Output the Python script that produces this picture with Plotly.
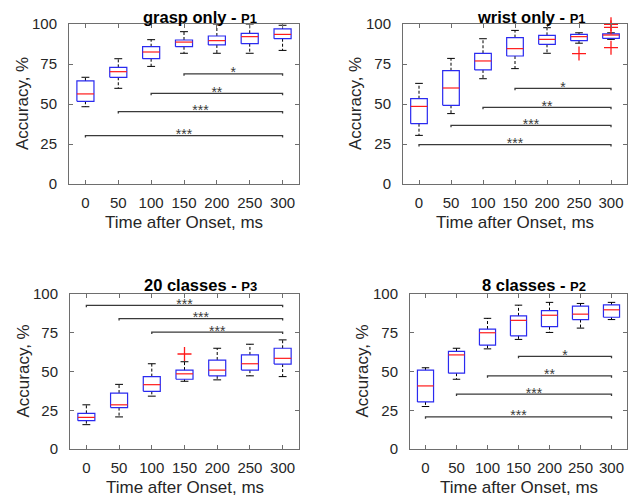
import plotly.graph_objects as go

# The page places the figure 8px from the window's top-left corner.
OFF = 8
W, H = 639 - OFF, 497 - OFF

TIMES = [0, 50, 100, 150, 200, 250, 300]
TICK_LABELS = ["0", "50", "100", "150", "200", "250", "300"]
Y_TICKS = [0, 25, 50, 75, 100]
Y_TICK_LABELS = ["0", "25", "50", "75", "100"]

# grasp only - P1
GRASP_LO = [48.3, 59.8, 73.5, 81.7, 81.7, 81.7, 83.5]
GRASP_Q1 = [51.7, 66.7, 78.3, 85.8, 86.9, 87.7, 90.8]
GRASP_MED = [56.3, 70.2, 82.5, 88.7, 89.6, 92.1, 93.5]
GRASP_Q3 = [64.4, 72.9, 85.8, 90.0, 92.5, 94.2, 96.9]
GRASP_HI = [66.7, 78.3, 90.2, 95.2, 100.0, 100.0, 99.2]
GRASP_OUT_T = []
GRASP_OUT_V = []
GRASP_SIG_FROM = [150, 100, 50, 0]
GRASP_SIG_Y = [68.8, 56.7, 45.2, 30.2]
GRASP_SIG_TEXT = ["*", "**", "***", "***"]

# wrist only - P1
WRIST_LO = [30.4, 44.0, 65.8, 72.1, 81.7, 88.0, 90.4]
WRIST_Q1 = [37.7, 49.2, 71.3, 80.0, 87.3, 89.6, 91.0]
WRIST_MED = [48.5, 60.0, 76.9, 84.6, 90.4, 92.1, 93.1]
WRIST_Q3 = [53.3, 70.8, 81.7, 91.5, 92.9, 93.5, 93.8]
WRIST_HI = [62.9, 78.5, 90.8, 96.0, 97.7, 94.5, 94.5]
WRIST_OUT_T = [250, 250, 300, 300, 300]
WRIST_OUT_V = [100.4, 81.5, 99.8, 97.9, 85.2]
WRIST_SIG_FROM = [150, 100, 50, 0]
WRIST_SIG_Y = [59.8, 47.9, 36.7, 24.6]
WRIST_SIG_TEXT = ["*", "**", "***", "***"]

# 20 classes - P3
C20_LO = [15.7, 20.7, 34.1, 43.7, 44.6, 47.2, 46.7]
C20_Q1 = [18.3, 26.7, 37.2, 45.0, 47.2, 50.9, 54.8]
C20_MED = [20.4, 28.5, 41.5, 48.5, 50.9, 55.0, 58.5]
C20_Q3 = [23.0, 36.1, 46.7, 50.9, 57.4, 60.7, 65.0]
C20_HI = [28.5, 41.7, 55.0, 56.3, 65.0, 67.6, 70.4]
C20_OUT_T = [150]
C20_OUT_V = [61.3]
C20_SIG_FROM = [0, 50, 100]
C20_SIG_Y = [92.6, 84.1, 75.4]
C20_SIG_TEXT = ["***", "***", "***"]

# 8 classes - P2
C8_LO = [27.4, 45.0, 64.6, 70.7, 75.2, 78.0, 83.5]
C8_Q1 = [30.4, 48.9, 67.0, 73.0, 78.9, 83.5, 85.0]
C8_MED = [40.7, 60.7, 75.0, 83.0, 86.3, 87.0, 89.8]
C8_Q3 = [50.9, 63.0, 77.4, 85.9, 89.3, 92.2, 93.0]
C8_HI = [52.4, 65.0, 84.3, 92.8, 94.6, 93.9, 94.6]
C8_OUT_T = []
C8_OUT_V = []
C8_SIG_FROM = [150, 100, 50, 0]
C8_SIG_Y = [59.8, 47.2, 35.4, 20.7]
C8_SIG_TEXT = ["*", "**", "***", "***"]

PANELS = [
    dict(main="grasp only - ", sub="P1", lo=GRASP_LO, q1=GRASP_Q1, med=GRASP_MED, q3=GRASP_Q3, hi=GRASP_HI,
         ot=GRASP_OUT_T, ov=GRASP_OUT_V, sf=GRASP_SIG_FROM, sy=GRASP_SIG_Y, st=GRASP_SIG_TEXT,
         box=(69, 299, 24, 184), tx=200, ty=17, yx=23),
    dict(main="wrist only - ", sub="P1", lo=WRIST_LO, q1=WRIST_Q1, med=WRIST_MED, q3=WRIST_Q3, hi=WRIST_HI,
         ot=WRIST_OUT_T, ov=WRIST_OUT_V, sf=WRIST_SIG_FROM, sy=WRIST_SIG_Y, st=WRIST_SIG_TEXT,
         box=(403, 627, 24, 184), tx=531, ty=17, yx=356),
    dict(main="20 classes - ", sub="P3", lo=C20_LO, q1=C20_Q1, med=C20_MED, q3=C20_Q3, hi=C20_HI,
         ot=C20_OUT_T, ov=C20_OUT_V, sf=C20_SIG_FROM, sy=C20_SIG_Y, st=C20_SIG_TEXT,
         box=(70, 299, 294, 449), tx=200, ty=285, yx=23),
    dict(main="8 classes - ", sub="P2", lo=C8_LO, q1=C8_Q1, med=C8_MED, q3=C8_Q3, hi=C8_HI,
         ot=C8_OUT_T, ov=C8_OUT_V, sf=C8_SIG_FROM, sy=C8_SIG_Y, st=C8_SIG_TEXT,
         box=(410, 627, 294, 449), tx=534, ty=285, yx=362),
]

BOX_HW = 13.0
CAP_HW = 6.0
FONT = "Liberation Sans, Arial, Helvetica, sans-serif"

fig = go.Figure()
layout = dict(
    template="none",
    width=W, height=H, margin=dict(l=0, r=0, t=0, b=0, pad=0, autoexpand=False),
    paper_bgcolor="white", plot_bgcolor="white", showlegend=False,
    font=dict(family=FONT, color="#262626"),
)
annotations = []


def px_x(x):
    return (x - OFF) / W


def px_y(y):
    return 1 - (y - OFF) / H


for i, p in enumerate(PANELS):
    n = "" if i == 0 else str(i + 1)
    xa, ya = "x" + n, "y" + n
    x0, x1, y0, y1 = p["box"]
    axis_common = dict(
        showline=True, linecolor="#6e6e6e", linewidth=1, mirror="ticks",
        ticks="inside", ticklen=4, tickcolor="#6e6e6e", tickwidth=1,
        showgrid=False, zeroline=False, automargin=False,
        tickfont=dict(family=FONT, size=15, color="#262626"),
    )
    layout["xaxis" + n] = dict(
        axis_common, domain=[px_x(x0), px_x(x1)], anchor=ya, range=[-25, 325],
        tickmode="array", tickvals=TIMES, ticktext=TICK_LABELS, ticklabelstandoff=5,
    )
    layout["yaxis" + n] = dict(
        axis_common, domain=[px_y(y1), px_y(y0)], anchor=xa, range=[0, 100],
        tickmode="array", tickvals=Y_TICKS, ticktext=Y_TICK_LABELS, ticklabelstandoff=8,
    )

    # whiskers (dashed black)
    wx, wy = [], []
    for t, lo, q1, q3, hi in zip(TIMES, p["lo"], p["q1"], p["q3"], p["hi"]):
        wx += [t, t, None, t, t, None]
        wy += [q3, hi, None, q1, lo, None]
    fig.add_trace(go.Scatter(x=wx, y=wy, xaxis=xa, yaxis=ya, mode="lines",
                             line=dict(color="black", width=1, dash="3px,2px"),
                             hoverinfo="skip", cliponaxis=False))
    # caps
    cx, cy = [], []
    for t, lo, hi in zip(TIMES, p["lo"], p["hi"]):
        cx += [t - CAP_HW, t + CAP_HW, None, t - CAP_HW, t + CAP_HW, None]
        cy += [hi, hi, None, lo, lo, None]
    fig.add_trace(go.Scatter(x=cx, y=cy, xaxis=xa, yaxis=ya, mode="lines",
                             line=dict(color="black", width=1),
                             hoverinfo="skip", cliponaxis=False))
    # boxes
    bx, by = [], []
    for t, q1, q3 in zip(TIMES, p["q1"], p["q3"]):
        bx += [t - BOX_HW, t + BOX_HW, t + BOX_HW, t - BOX_HW, t - BOX_HW, None]
        by += [q1, q1, q3, q3, q1, None]
    fig.add_trace(go.Scatter(x=bx, y=by, xaxis=xa, yaxis=ya, mode="lines",
                             line=dict(color="#2a2af0", width=1.2),
                             hoverinfo="skip", cliponaxis=False))
    # medians
    mx, my = [], []
    for t, m in zip(TIMES, p["med"]):
        mx += [t - BOX_HW, t + BOX_HW, None]
        my += [m, m, None]
    fig.add_trace(go.Scatter(x=mx, y=my, xaxis=xa, yaxis=ya, mode="lines",
                             line=dict(color="#ff1a1a", width=1.2),
                             hoverinfo="skip", cliponaxis=False))
    # outliers
    if p["ot"]:
        fig.add_trace(go.Scatter(x=p["ot"], y=p["ov"], xaxis=xa, yaxis=ya, mode="markers",
                                 marker=dict(symbol="cross-thin", size=10,
                                             line=dict(color="#ff1a1a", width=1.3)),
                                 hoverinfo="skip", cliponaxis=False))
    # significance bars
    sx, sy = [], []
    for f, h in zip(p["sf"], p["sy"]):
        sx += [f, f, TIMES[-1], TIMES[-1], None]
        sy += [h - 1.2, h, h, h - 1.2, None]
    fig.add_trace(go.Scatter(x=sx, y=sy, xaxis=xa, yaxis=ya, mode="lines",
                             line=dict(color="#3a3a3a", width=1.3),
                             hoverinfo="skip"))
    fig.add_trace(go.Scatter(x=[(f + TIMES[-1]) / 2 for f in p["sf"]], y=p["sy"],
                             text=p["st"], xaxis=xa, yaxis=ya, mode="text",
                             textposition="middle center",
                             textfont=dict(family=FONT, size=14, color="#3a3a3a"),
                             hoverinfo="skip"))

    # title
    annotations.append(dict(
        x=px_x(p["tx"]), y=px_y(p["ty"]), xref="paper", yref="paper",
        xanchor="center", yanchor="middle", showarrow=False,
        text="<b>" + p["main"] + "<span style='font-size:13px'>" + p["sub"] + "</span></b>",
        font=dict(family=FONT, size=16.5, color="black"),
    ))
    # y axis title
    annotations.append(dict(
        x=px_x(p["yx"]), y=px_y((y0 + y1) / 2), xref="paper", yref="paper",
        xanchor="center", yanchor="middle", showarrow=False, textangle=-90,
        text="Accuracy, %", font=dict(family=FONT, size=17, color="#262626"),
    ))
    # x axis title
    annotations.append(dict(
        x=px_x((x0 + x1) / 2), y=px_y(y1 + 38), xref="paper", yref="paper",
        xanchor="center", yanchor="middle", showarrow=False,
        text="Time after Onset, ms", font=dict(family=FONT, size=17, color="#262626"),
    ))

layout["annotations"] = annotations
fig.update_layout(**layout)
fig.write_html("out.html")
